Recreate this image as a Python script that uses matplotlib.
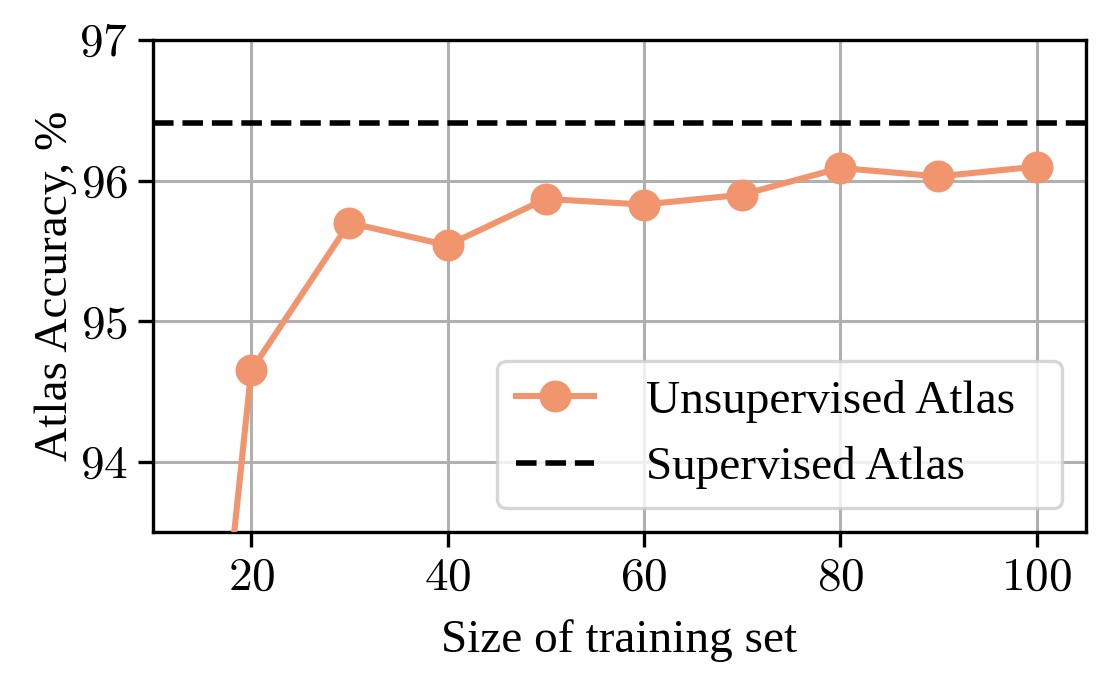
import matplotlib
matplotlib.use("Agg")
import matplotlib.pyplot as plt

sizes = [10, 20, 30, 40, 50, 60, 70, 80, 90, 100]
unsup_acc = [88.0, 94.65, 95.70, 95.54, 95.87, 95.83, 95.90, 96.09, 96.03, 96.10]
sup_acc = 96.41
xticks = [20, 40, 60, 80, 100]
yticks = [94, 95, 96, 97]

plt.rcParams['font.family'] = ['Liberation Serif', 'DejaVu Serif']
plt.rcParams['mathtext.fontset'] = 'cm'
plt.rcParams['axes.formatter.use_mathtext'] = True

fig = plt.figure(figsize=(5.545, 3.39), dpi=200)
ax = fig.add_axes([0.138, 0.215, 0.841, 0.726])

ax.plot(sizes, unsup_acc, color='#F0956E', marker='o', markersize=10.5, linewidth=2.2,
        label='Unsupervised Atlas', zorder=3)
ax.axhline(sup_acc, color='black', linestyle='--', linewidth=2.0, label='Supervised Atlas', zorder=3)

ax.set_xlim(10, 105)
ax.set_ylim(93.5, 97)
ax.set_xticks(xticks)
ax.set_yticks(yticks)
ax.set_xticklabels([f'${t}$' for t in xticks])
ax.set_yticklabels([f'${t}$' for t in yticks])
ax.tick_params(labelsize=17, length=5.5, width=1.2, direction='out')
ax.grid(True, color='#b0b0b0', linewidth=1.1)
ax.set_axisbelow(True)
for s in ax.spines.values():
    s.set_linewidth(1.2)

ax.set_xlabel('Size of training set', fontsize=17, labelpad=7)
ax.set_ylabel('Atlas Accuracy, %', fontsize=17, labelpad=1)

leg = ax.legend(loc='lower left', bbox_to_anchor=(0.369, 0.0488, 0.606, 0.3), mode='expand',
                borderaxespad=0, fontsize=17, framealpha=0.8, edgecolor='#cccccc',
                fancybox=True, handlelength=1.65, handletextpad=1.1)
leg.get_frame().set_linewidth(1.2)

fig.savefig('out.png', dpi=200)
